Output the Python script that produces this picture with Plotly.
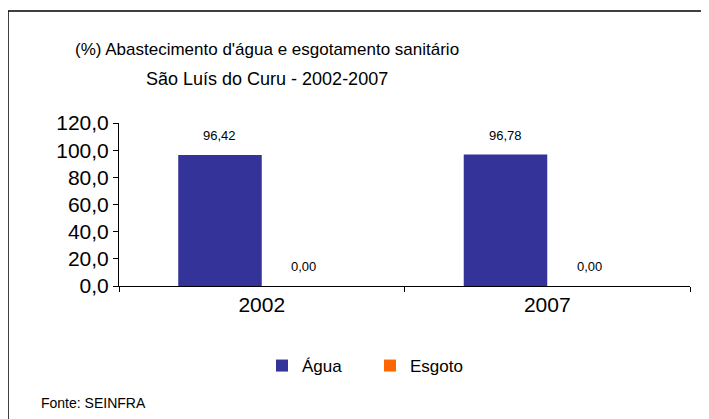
import plotly.graph_objects as go

categories = ["2002", "2007"]
agua = [96.42, 96.78]
esgoto = [0.00, 0.00]
series_names = ["Água", "Esgoto"]
colors = ["#333399", "#FF6600"]
y_ticks = [0, 20, 40, 60, 80, 100, 120]
y_tick_labels = ["0,0", "20,0", "40,0", "60,0", "80,0", "100,0", "120,0"]
title_lines = ["(%) Abastecimento d'água e esgotamento sanitário", "São Luís do Curu - 2002-2007"]
source_text = "Fonte: SEINFRA"

# The page body has an 8px default margin, so the figure starts at (8, 8)
OFF = 8
W, H = 709 - OFF, 419 - OFF
L, R, T, B = 119 - OFF, 19, 123 - OFF, H - (286 - OFF)
pw = W - L - R
ph = H - T - B
FONT = "Liberation Sans, Arial"

def px2x(px):
    return (px - OFF - L) / pw

def py2y(py):
    return (H - B - (py - OFF)) / ph

def fmt(v):
    return f"{v:.2f}".replace(".", ",")

fig = go.Figure()
for name, vals, col in zip(series_names, [agua, esgoto], colors):
    fig.add_trace(go.Bar(x=categories, y=vals, name=name, marker_color=col,
                         marker_line_width=0, hoverinfo="skip"))

annotations = []
for i, cat in enumerate(categories):
    for vals, shift in [(agua, -42), (esgoto, 42)]:
        annotations.append(dict(x=i, y=vals[i], xref="x", yref="y", text=fmt(vals[i]),
                                showarrow=False, xshift=shift, yshift=10, yanchor="bottom",
                                font=dict(family=FONT, size=13, color="black")))

for line, py, fs in zip(title_lines, [49, 79], [17, 18]):
    annotations.append(dict(x=px2x(267), y=py2y(py), xref="paper", yref="paper", text=line,
                            showarrow=False, xanchor="center", yanchor="middle",
                            font=dict(family=FONT, size=fs, color="black")))

annotations.append(dict(x=px2x(39), y=py2y(403), xref="paper", yref="paper", text=source_text,
                        showarrow=False, xanchor="left", yanchor="middle",
                        font=dict(family=FONT, size=14, color="black")))

fig.update_layout(
    width=W, height=H,
    margin=dict(l=L, r=R, t=T, b=B),
    paper_bgcolor="white", plot_bgcolor="white",
    barmode="group", bargap=0.415, bargroupgap=0,
    xaxis=dict(type="category", showline=True, linecolor="black", linewidth=1,
               ticks="outside", tickson="boundaries", ticklen=5, tickcolor="black",
               showgrid=False, tickangle=0,
               tickfont=dict(family=FONT, size=21, color="black")),
    yaxis=dict(range=[0, 120], tickvals=y_ticks, ticktext=y_tick_labels,
               showline=True, linecolor="black", linewidth=1,
               ticks="outside", ticklen=5, tickcolor="black", showgrid=False, zeroline=False,
               tickfont=dict(family=FONT, size=21, color="black")),
    legend=dict(orientation="h", x=px2x(262), y=py2y(366), xanchor="left", yanchor="middle",
                font=dict(family=FONT, size=17, color="black"),
                entrywidth=63, entrywidthmode="pixels", itemwidth=30,
                bgcolor="rgba(0,0,0,0)"),
    annotations=annotations,
    shapes=[dict(type="rect", xref="paper", yref="paper",
                 x0=px2x(8), x1=px2x(715), y0=py2y(430), y1=py2y(11),
                 line=dict(color="black", width=1.5), fillcolor="rgba(0,0,0,0)", layer="below")],
)

fig.write_html("out.html")
